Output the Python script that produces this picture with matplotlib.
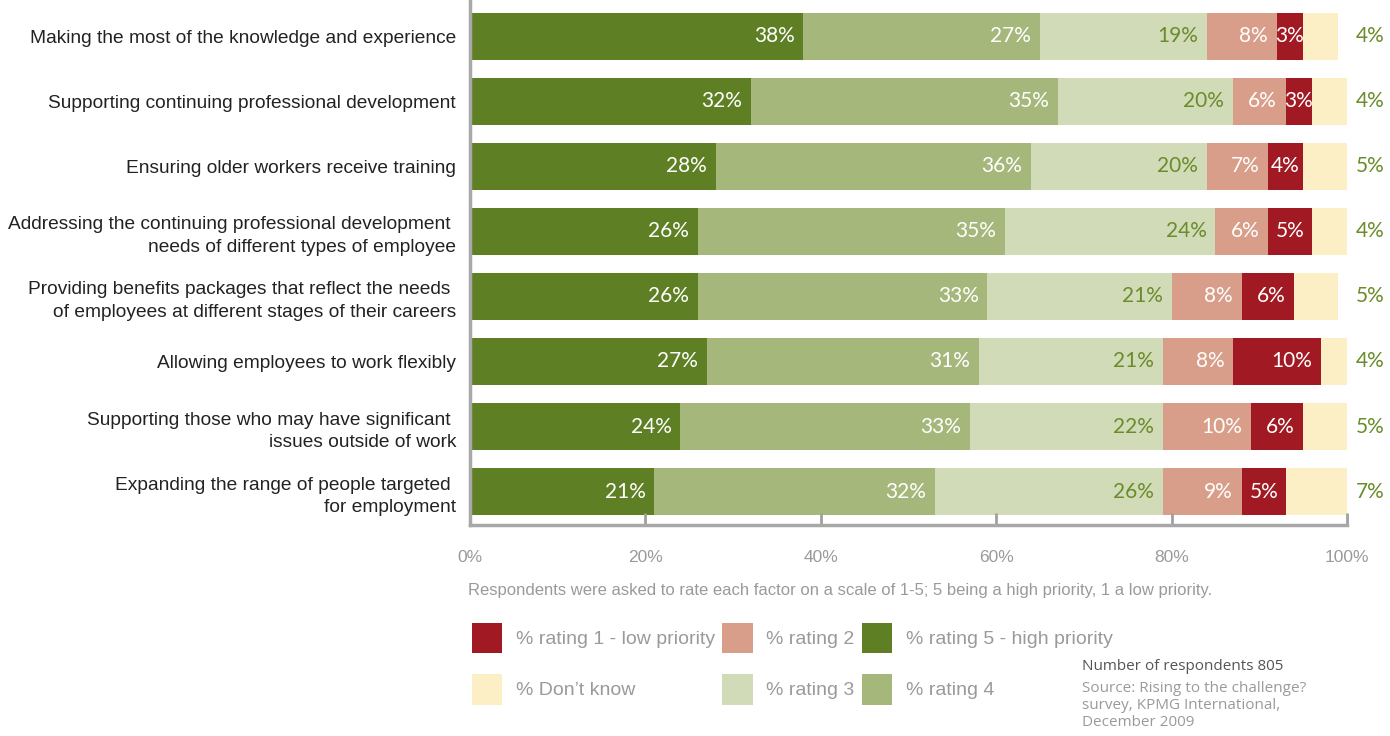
import matplotlib
matplotlib.use("Agg")
import matplotlib.pyplot as plt
from matplotlib.patches import Patch

# Priority ratings by factor (percent of respondents)
factors = [
    "Making the most of the knowledge and experience",
    "Supporting continuing professional development",
    "Ensuring older workers receive training",
    "Addressing the continuing professional development \nneeds of different types of employee",
    "Providing benefits packages that reflect the needs \nof employees at different stages of their careers",
    "Allowing employees to work flexibly",
    "Supporting those who may have significant \nissues outside of work",
    "Expanding the range of people targeted \nfor employment",
]
rating5 = [38, 32, 28, 26, 26, 27, 24, 21]
rating4 = [27, 35, 36, 35, 33, 31, 33, 32]
rating3 = [19, 20, 20, 24, 21, 21, 22, 26]
rating2 = [8, 6, 7, 6, 8, 8, 10, 9]
rating1 = [3, 3, 4, 5, 6, 10, 6, 5]
dont_know = [4, 4, 5, 4, 5, 4, 5, 7]

x_ticks = [0, 20, 40, 60, 80, 100]

C5 = "#5e7f24"
C4 = "#a5b77a"
C3 = "#d1dbb8"
C2 = "#d89e89"
C1 = "#a01923"
CDK = "#fcefc6"
GREY = "#9a9a9a"
OLIVE = "#6a8c2a"

CAT_FONT = ["Liberation Sans", "DejaVu Sans"]
VAL_FONT = ["Lato", "DejaVu Sans"]
SRC_FONT = ["Open Sans", "DejaVu Sans"]

series = [
    (rating5, C5, "white", "% rating 5 - high priority"),
    (rating4, C4, "white", "% rating 4"),
    (rating3, C3, OLIVE, "% rating 3"),
    (rating2, C2, "white", "% rating 2"),
    (rating1, C1, "white", "% rating 1 - low priority"),
    (dont_know, CDK, None, "% Don\u2019t know"),
]

fig = plt.figure(figsize=(13.9, 7.36), dpi=100)
ax = fig.add_axes([470 / 1390, 211 / 736, 877 / 1390, 525 / 736])

ypos = list(range(len(factors)))
left = [0.0] * len(factors)
for values, color, txt_color, name in series:
    ax.barh(ypos, values, left=left, height=0.72, color=color, linewidth=0)
    for i, v in enumerate(values):
        end = left[i] + v
        if txt_color is None:
            # "don't know" values sit outside the bar
            ax.text(102.6, i, f"{v}%", ha="center", va="center", color=OLIVE,
                    fontsize=15, family=VAL_FONT, clip_on=False)
        elif v <= 5:
            ax.text(end - v / 2, i, f"{v}%", ha="center", va="center",
                    color=txt_color, fontsize=15, family=VAL_FONT)
        else:
            ax.text(end - 1.0, i, f"{v}%", ha="right", va="center",
                    color=txt_color, fontsize=15, family=VAL_FONT)
    left = [l + v for l, v in zip(left, values)]

ax.set_xlim(0, 100)
ax.set_ylim(7.515, -0.56)
ax.set_yticks(ypos)
ax.set_yticklabels(factors, fontsize=13.8, family=CAT_FONT, color="#222222",
                   linespacing=1.45)
ax.tick_params(axis="y", length=0, pad=10)

ax.set_xticks(x_ticks)
ax.set_xticklabels([f"{t}%" for t in x_ticks], fontsize=12.5, family=CAT_FONT, color=GREY)
ax.tick_params(axis="x", direction="in", length=9, width=2, color="#a0a0a0", pad=18)

for side in ("top", "right"):
    ax.spines[side].set_visible(False)
for side in ("left", "bottom"):
    ax.spines[side].set_color("#a8a8a8")
    ax.spines[side].set_linewidth(2.5)

fig.text(468 / 1390, 1 - 590 / 736,
         "Respondents were asked to rate each factor on a scale of 1-5; 5 being a high priority, 1 a low priority.",
         fontsize=12, family=CAT_FONT, color=GREY, va="center")

# legend, filled column by column
by_name = {name: color for _, color, _, name in series}
order = ["% rating 1 - low priority", "% Don\u2019t know",
         "% rating 2", "% rating 3",
         "% rating 5 - high priority", "% rating 4"]
handles = [Patch(facecolor=by_name[n], edgecolor="none", label=n) for n in order]
leg = fig.legend(handles=handles, ncol=3, loc="upper left",
                 bbox_to_anchor=(464 / 1390, 1 - 615 / 736),
                 frameon=False, prop={"family": CAT_FONT, "size": 14},
                 handlelength=1.55, handleheight=2.05, handletextpad=0.7,
                 columnspacing=0.4, labelspacing=1.05, borderaxespad=0)
for t in leg.get_texts():
    t.set_color(GREY)

fig.text(1082 / 1390, 1 - 666 / 736, "Number of respondents 805",
         fontsize=11, family=SRC_FONT, color="#555555", va="center")
source_lines = ["Source: Rising to the challenge?", "survey, KPMG International,", "December 2009"]
for k, line in enumerate(source_lines):
    fig.text(1082 / 1390, 1 - (688 + 17.5 * k) / 736, line,
             fontsize=11, family=SRC_FONT, color=GREY, va="center")

fig.savefig("out.png", dpi=100)
